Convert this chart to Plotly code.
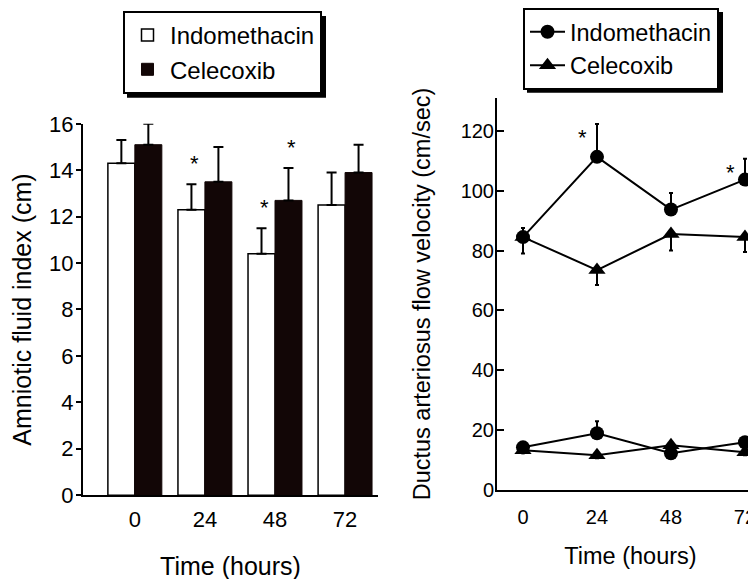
import plotly.graph_objects as go

# ---------------- data ----------------
time_labels = ["0", "24", "48", "72"]
hours = [0, 24, 48, 72]

# Amniotic fluid index (cm) - mean and upper SD
afi_indo = [14.3, 12.3, 10.4, 12.5]
afi_indo_err = [1.0, 1.1, 1.1, 1.4]
afi_cele = [15.1, 13.5, 12.7, 13.9]
afi_cele_err = [0.9, 1.5, 1.4, 1.2]
afi_indo_sig = [False, True, True, False]
afi_cele_sig = [False, False, True, False]

# Ductus arteriosus flow velocity (cm/sec)
dv_indo_sys = [84.5, 111.3, 93.7, 103.7]
dv_indo_sys_err = [3.0, 11.0, 5.5, 7.0]
dv_cele_sys = [84.5, 73.5, 85.5, 84.5]
dv_cele_sys_err = [5.5, 5.0, 5.5, 5.0]
dv_indo_dia = [14.3, 19.0, 12.3, 16.0]
dv_indo_dia_err = [1.5, 4.0, 1.5, 1.5]
dv_cele_dia = [13.3, 11.7, 15.0, 12.7]
dv_cele_dia_err = [1.0, 1.0, 1.0, 1.0]
dv_indo_sig = [False, True, False, True]

FONT = "Liberation Sans, Arial, Helvetica, sans-serif"
BLACK = "#120606"

fig = go.Figure()

# ---------------- left panel: bars ----------------
zeros = [0] * len(time_labels)
fig.add_trace(go.Bar(
    x=time_labels, y=afi_indo, name="Indomethacin",
    marker=dict(color="white", line=dict(color="black", width=1.5)),
    error_y=dict(type="data", array=afi_indo_err, arrayminus=zeros, symmetric=False,
                 color="black", thickness=2, width=5),
    xaxis="x", yaxis="y", legend="legend",
))
fig.add_trace(go.Bar(
    x=time_labels, y=afi_cele, name="Celecoxib",
    marker=dict(color=BLACK, line=dict(color=BLACK, width=1)),
    error_y=dict(type="data", array=afi_cele_err, arrayminus=zeros, symmetric=False,
                 color="black", thickness=2, width=5),
    xaxis="x", yaxis="y", legend="legend",
))

# ---------------- right panel: lines ----------------
def line_trace(y, err, up, name, symbol, size, show):
    e = dict(type="data", symmetric=False, color="black", thickness=2, width=2)
    if up:
        e.update(array=err, arrayminus=[0] * len(err))
    else:
        e.update(array=[0] * len(err), arrayminus=err)
    return go.Scatter(
        x=hours, y=y, name=name, mode="lines+markers",
        line=dict(color="black", width=2),
        marker=dict(symbol=symbol, size=size, color="black"),
        error_y=e, legendgroup=name, showlegend=show, cliponaxis=False,
        xaxis="x2", yaxis="y2", legend="legend2",
    )

fig.add_trace(line_trace(dv_indo_sys, dv_indo_sys_err, True, "Indomethacin", "circle", 14, True))
fig.add_trace(line_trace(dv_cele_sys, dv_cele_sys_err, False, "Celecoxib", "triangle-up", 15, True))
fig.add_trace(line_trace(dv_indo_dia, dv_indo_dia_err, True, "Indomethacin", "circle", 14, False))
fig.add_trace(line_trace(dv_cele_dia, dv_cele_dia_err, False, "Celecoxib", "triangle-up", 15, False))

# ---------------- asterisks ----------------
annotations = []
bar_off = 0.193
star_font = dict(size=22, family=FONT, color="black")
for i, lab in enumerate(time_labels):
    if afi_indo_sig[i]:
        annotations.append(dict(x=i - bar_off, y=afi_indo[i] + afi_indo_err[i], xref="x", yref="y",
                                text="*", showarrow=False, yanchor="bottom", xshift=3, yshift=6,
                                font=star_font))
    if afi_cele_sig[i]:
        annotations.append(dict(x=i + bar_off, y=afi_cele[i] + afi_cele_err[i], xref="x", yref="y",
                                text="*", showarrow=False, yanchor="bottom", xshift=3, yshift=6,
                                font=star_font))
for i, h in enumerate(hours):
    if dv_indo_sig[i]:
        annotations.append(dict(x=h, y=dv_indo_sys[i] + dv_indo_sys_err[i], xref="x2", yref="y2",
                                text="*", showarrow=False, yanchor="middle", xshift=-14, yshift=-14,
                                font=star_font))

W, H = 756, 579
OFF = 8  # the page body adds an 8px margin; positions below are in window pixels
def px(x):
    return (x - OFF) / W
def py(y):
    return 1 - (y - OFF) / H

axis_common = dict(showgrid=False, zeroline=False, showline=True, linecolor="black",
                   linewidth=2, color="black", automargin=False)

# drop shadows behind the two legend frames
shapes = [
    dict(type="rect", xref="paper", yref="paper", x0=px(127), x1=px(326), y0=py(15), y1=py(97),
         fillcolor="black", line=dict(width=0), layer="above"),
    dict(type="rect", xref="paper", yref="paper", x0=px(527), x1=px(723), y0=py(11), y1=py(92),
         fillcolor="black", line=dict(width=0), layer="above"),
]

fig.update_layout(
    template="none",
    width=W, height=H,
    margin=dict(l=0, r=0, t=0, b=0),
    paper_bgcolor="white", plot_bgcolor="rgba(0,0,0,0)",
    font=dict(family=FONT, color="black"),
    barmode="group", bargap=0.23, bargroupgap=0.0,
    xaxis=dict(domain=[px(83), px(378)], range=[-0.74, 3.47], type="category",
               ticks="outside", ticklen=3, tickcolor="rgba(0,0,0,0)",
               tickfont=dict(size=22),
               title=dict(text="Time (hours)", font=dict(size=25), standoff=27),
               anchor="y", **axis_common),
    yaxis=dict(domain=[py(495), py(123)], range=[0, 16], tickvals=[0, 2, 4, 6, 8, 10, 12, 14, 16],
               ticks="outside", ticklen=5, tickwidth=2, tickcolor="black",
               tickfont=dict(size=22), ticklabelstandoff=-2,
               title=dict(text="Amniotic fluid index (cm)", font=dict(size=25), standoff=12),
               anchor="x", **axis_common),
    xaxis2=dict(domain=[px(497), 1.0], range=[-8.43, 78.17], tickvals=hours, ticktext=time_labels,
                ticks="outside", ticklen=8, tickcolor="rgba(0,0,0,0)",
                tickfont=dict(size=20), ticklabeloverflow="allow",
                title=dict(text="Time (hours)", font=dict(size=23.5), standoff=20),
                anchor="y2", **axis_common),
    yaxis2=dict(domain=[py(490), py(97)], range=[0, 131], tickvals=[0, 20, 40, 60, 80, 100, 120],
                ticks="inside", ticklen=7, tickwidth=2, tickcolor="black",
                tickfont=dict(size=20), ticklabelstandoff=-3,
                title=dict(text="Ductus arteriosus flow velocity (cm/sec)", font=dict(size=23.5), standoff=23),
                anchor="x2", **axis_common),
    legend=dict(x=px(123), y=py(11), xanchor="left", yanchor="top", itemwidth=35,
                bgcolor="white", bordercolor="black", borderwidth=2, tracegroupgap=0,
                font=dict(size=24, family=FONT, color="black")),
    legend2=dict(x=px(523), y=py(7), xanchor="left", yanchor="top", itemwidth=35,
                 bgcolor="white", bordercolor="black", borderwidth=2, tracegroupgap=0,
                 font=dict(size=23.5, family=FONT, color="black")),
    annotations=annotations,
    shapes=shapes,
)

fig.write_html("out.html")
